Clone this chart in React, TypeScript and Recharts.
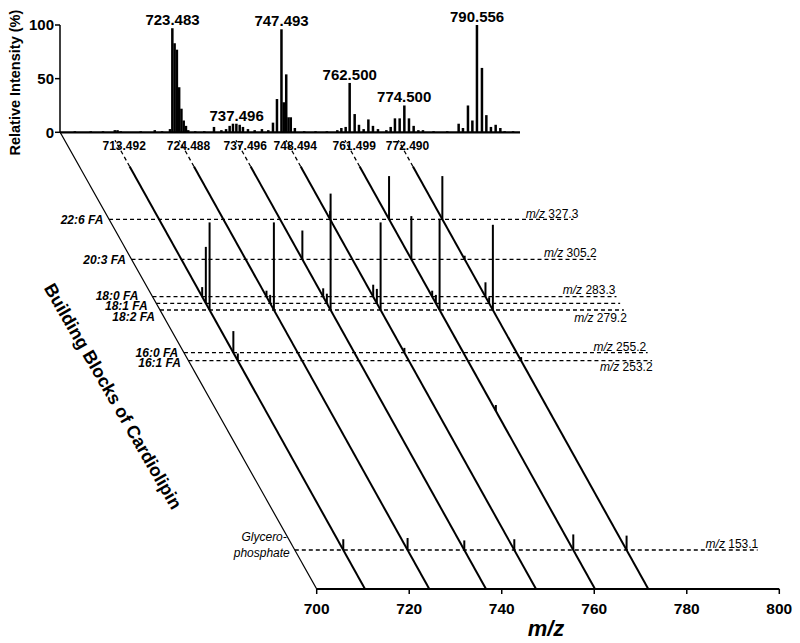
import React from 'react';
import { ComposedChart, Bar, Line, XAxis, YAxis, ReferenceLine, ReferenceDot } from 'recharts';

const FONT = '"Liberation Sans", Arial, Helvetica, sans-serif';
const INK = '#000';

// ---------------- Top panel: MS spectrum ----------------
const spectrumMz = [
  702.0, 705.5, 708.2, 710.8, 711.4, 712.1, 716.5, 719.6, 721.2, 722.95,
  723.47, 723.97, 724.47, 724.97, 725.47, 725.97, 726.47, 726.97, 728.5, 730.5,
  732.64, 734.27, 735.3, 736.09, 736.82, 737.57, 738.3, 739.02, 740.12, 741.6,
  743.2, 744.6, 745.63, 746.51, 747.5, 748.0, 748.55, 749.05, 749.55, 750.45,
  752.5, 755.0, 757.5, 759.8, 760.69, 761.64, 762.52, 763.62, 764.57, 765.6,
  766.64, 767.65, 768.75, 770.6, 771.55, 772.49, 773.53, 774.56, 775.58, 776.61,
  777.65, 778.66, 781.0, 784.0, 786.52, 787.47, 788.57, 789.54, 790.55, 791.65,
  792.62, 793.63, 794.67, 795.7, 796.65, 798.5,
];
const spectrumIntensity = [
  1, 1, 1, 2, 2, 1, 1, 2, 1, 3,
  97, 83, 77, 42, 22, 11, 6, 2, 1, 1,
  5, 2, 3, 6, 8, 8, 7, 5, 3, 2,
  3, 2, 9, 31, 96, 28, 54, 14, 14, 4,
  1, 1, 1, 2, 4, 5, 46, 17, 7, 3,
  12, 6, 3, 2, 5, 13, 13, 25, 13, 6,
  2, 2, 1, 1, 8, 4, 25, 11, 100, 60,
  16, 5, 7, 4, 1, 1,
];
const spectrumTicks = [0, 50, 100];
const peakLabelText = ['723.483', '737.496', '747.493', '762.500', '774.500', '790.556'];
const peakLabelMz = [723.483, 737.6, 747.493, 762.5, 774.5, 790.556];
const peakLabelIntensity = [97, 8, 96, 46, 25, 100];

// ---------------- Bottom panel: building blocks ----------------
const msAxisTicks = [700, 720, 740, 760, 780, 800];
const precursorLabel = ['713.492', '724.488', '737.496', '748.494', '761.499', '772.490'];
const precursorBaseMz = [710.44, 724.34, 736.6, 747.41, 760.16, 771.68];
const fragmentName = ['22:6 FA', '20:3 FA', '18:0 FA', '18:1 FA', '18:2 FA', '16:0 FA', '16:1 FA', 'Glycerophosphate'];
const fragmentMzLabel = ['327.3', '305.2', '283.3', '', '279.2', '255.2', '253.2', '153.1'];
const fragmentDepth = [80.9, 72.14, 63.96, 62.52, 61.05, 51.71, 49.96, 8.53];
const minorFragmentDepth = 38.95;
// rows: precursor; cols: 22:6, 20:3, 18:0, 18:1, 18:2, 16:0, 16:1, glycerophosphate, minor
const stickIntensity = [
  [0, 0, 8, 47, 73, 18, 6, 9, 0],
  [0, 0, 5, 7, 73, 0, 0, 10, 0],
  [0, 24, 7, 8, 97, 0, 0, 8, 0],
  [7, 0, 10, 12, 73, 4, 0, 9, 0],
  [36, 36, 5, 7, 76, 0, 0, 13, 5],
  [36, 3, 12, 5, 71, 0, 3, 12, 0],
];

// geometry / style constants (not data)
const SHEAR = 0.5503; // m/z shift per depth unit for the precursor lines
const FRAME_SHEAR = 0.5549;
const STICK_SCALE = 0.2626;
const LINE_TOP = 92.45;
const CONNECTOR_TOP = 98.2;
const PRECURSOR_LABEL_DEPTH = 96.94;
const BAR_PX = 2.5;

const leftLabelLayout = [
  { gap: 5.7, dy: 0.7 },
  { gap: 5.5, dy: 0 },
  { gap: 14.2, dy: -0.7 },
  { gap: 8.5, dy: 2.7 },
  { gap: 5, dy: 6.7 },
  { gap: 5.7, dy: -0.4 },
  { gap: 7.5, dy: 1.6 },
  { gap: 6.8, dy: 0 },
];
const rightLabelLayout: ({ dx: number; dy: number } | null)[] = [
  { dx: 5, dy: -6 },
  { dx: 1, dy: -6.6 },
  { dx: -1, dy: -7.4 },
  null,
  { dx: 3, dy: 7.3 },
  { dx: -1.5, dy: -6 },
  { dx: 0.5, dy: 6 },
  { dx: 0.7, dy: -6.7 },
];

const at = (draw: (x: number, y: number) => React.ReactNode) => (props: any) => {
  const vb = props.viewBox || {};
  const x = (vb.x ?? 0) + (vb.width ?? 0) / 2;
  const y = (vb.y ?? 0) + (vb.height ?? 0) / 2;
  return <g>{draw(x, y)}</g>;
};

const spectrumData = spectrumMz.map((mz, i) => ({ mz, intensity: spectrumIntensity[i] }));

const StickShape = (p: any) => {
  if (!p || p.height == null || !(p.height > 0)) return null;
  const cx = p.x + (p.width || 0) / 2;
  return <rect x={cx - BAR_PX / 2} y={p.y} width={BAR_PX} height={p.height} fill={INK} />;
};

function TopSpectrum() {
  return (
    <ComposedChart width={800} height={170} data={spectrumData} margin={{ top: 25, right: 280, bottom: 37.7, left: 0 }}>
      <XAxis type="number" dataKey="mz" domain={[698.7, 800]} allowDataOverflow hide />
      <YAxis
        type="number"
        domain={[0, 100]}
        ticks={spectrumTicks}
        interval={0}
        width={60}
        tickSize={5}
        tickMargin={1}
        axisLine={{ stroke: INK, strokeWidth: 1.5 }}
        tickLine={{ stroke: INK, strokeWidth: 1.5 }}
        tick={{ fill: INK, fontSize: 15, fontWeight: 700, fontFamily: FONT }}
        label={(props: any) => {
          const vb = props.viewBox || {};
          const x = (vb.x ?? 0) + 15;
          const y = (vb.y ?? 0) + (vb.height ?? 0) / 2 + 4;
          return (
            <text
              x={x}
              y={y}
              transform={`rotate(-90, ${x}, ${y})`}
              textAnchor="middle"
              dy="0.36em"
              fontSize={14.5}
              fontWeight={700}
              fontFamily={FONT}
              fill={INK}
            >
              Relative Intensity (%)
            </text>
          );
        }}
      />
      <Bar dataKey="intensity" fill={INK} barSize={2} shape={StickShape} isAnimationActive={false} />
      <ReferenceLine y={0} stroke={INK} strokeWidth={2.2} ifOverflow="visible" />
      {peakLabelText.map((t, i) => (
        <ReferenceDot
          key={t}
          x={peakLabelMz[i]}
          y={peakLabelIntensity[i]}
          r={0}
          ifOverflow="visible"
          label={at((x, y) => (
            <text x={x} y={y - 3} textAnchor="middle" fontSize={15} fontWeight={700} fontFamily={FONT} fill={INK}>
              {t}
            </text>
          ))}
        />
      ))}
    </ComposedChart>
  );
}

function BottomPanel() {
  const sticks: { x: number; d: number; h: number; key: string }[] = [];
  stickIntensity.forEach((row, i) => {
    row.forEach((v, j) => {
      if (v > 0) {
        const d = j < fragmentDepth.length ? fragmentDepth[j] : minorFragmentDepth;
        sticks.push({ x: precursorBaseMz[i] - SHEAR * d, d, h: v * STICK_SCALE, key: `s${i}-${j}` });
      }
    });
  });

  return (
    <ComposedChart width={800} height={643} margin={{ top: 132, right: 20.7, bottom: 0, left: 39.14 }}>
      <XAxis
        type="number"
        dataKey="x"
        domain={[640, 800]}
        allowDataOverflow
        ticks={msAxisTicks}
        interval={0}
        axisLine={false}
        tickLine={{ stroke: INK, strokeWidth: 1.5 }}
        tickSize={5}
        tickMargin={9}
        height={54}
        tick={{ fill: INK, fontSize: 15.5, fontWeight: 700, fontFamily: FONT }}
      />
      <YAxis type="number" dataKey="y" domain={[0, 100]} allowDataOverflow hide />

      {/* frame (building-block axis) */}
      <Line
        data={[{ x: 700, y: 0 }, { x: 700 - FRAME_SHEAR * 100, y: 100 }]}
        dataKey="y"
        stroke={INK}
        strokeWidth={1.2}
        dot={false}
        isAnimationActive={false}
      />
      {/* m/z axis line */}
      <ReferenceLine segment={[{ x: 700, y: 0 }, { x: 800, y: 0 }]} stroke={INK} strokeWidth={2} ifOverflow="visible" />

      {/* fragment levels */}
      {fragmentDepth.map((d, j) => (
        <ReferenceLine
          key={`lvl${j}`}
          segment={[{ x: 700 - FRAME_SHEAR * d, y: d }, { x: 800 - SHEAR * d, y: d }]}
          stroke={INK}
          strokeWidth={1.3}
          strokeDasharray="4 3"
          ifOverflow="visible"
        />
      ))}

      {/* precursor lines */}
      {precursorBaseMz.map((m, i) => (
        <Line
          key={`pl${i}`}
          data={[{ x: m, y: 0 }, { x: m - SHEAR * LINE_TOP, y: LINE_TOP }]}
          dataKey="y"
          stroke={INK}
          strokeWidth={2}
          dot={false}
          isAnimationActive={false}
        />
      ))}
      {precursorBaseMz.map((m, i) => (
        <ReferenceLine
          key={`pc${i}`}
          segment={[{ x: m - SHEAR * LINE_TOP, y: LINE_TOP }, { x: m - SHEAR * CONNECTOR_TOP, y: CONNECTOR_TOP }]}
          stroke={INK}
          strokeWidth={1.3}
          strokeDasharray="4 3"
          ifOverflow="visible"
        />
      ))}

      {/* fragment sticks */}
      {sticks.map((s) => (
        <ReferenceLine
          key={s.key}
          segment={[{ x: s.x, y: s.d }, { x: s.x, y: s.d + s.h }]}
          stroke={INK}
          strokeWidth={2}
          ifOverflow="visible"
        />
      ))}

      {/* precursor labels */}
      {precursorLabel.map((t, i) => (
        <ReferenceDot
          key={`plab${i}`}
          x={precursorBaseMz[i] - SHEAR * PRECURSOR_LABEL_DEPTH}
          y={PRECURSOR_LABEL_DEPTH}
          r={0}
          ifOverflow="visible"
          label={at((x, y) => (
            <text x={x + 6} y={y} dy="0.36em" textAnchor="middle" fontSize={12} fontWeight={700} fontFamily={FONT} fill={INK}>
              {t}
            </text>
          ))}
        />
      ))}

      {/* left labels */}
      {fragmentName.map((name, j) => (
        <ReferenceDot
          key={`ll${j}`}
          x={700 - FRAME_SHEAR * fragmentDepth[j]}
          y={fragmentDepth[j]}
          r={0}
          ifOverflow="visible"
          label={at((x, y) =>
            j === 7 ? (
              <g>
                <text x={x - 8} y={y - 13} dy="0.36em" textAnchor="end" fontSize={12} fontStyle="italic" fontFamily={FONT} fill={INK}>
                  Glycero-
                </text>
                <text x={x - 5} y={y + 3} dy="0.36em" textAnchor="end" fontSize={12} fontStyle="italic" fontFamily={FONT} fill={INK}>
                  phosphate
                </text>
              </g>
            ) : (
              <text
                x={x - leftLabelLayout[j].gap}
                y={y + leftLabelLayout[j].dy}
                dy="0.36em"
                textAnchor="end"
                fontSize={12}
                fontWeight={700}
                fontStyle="italic"
                fontFamily={FONT}
                fill={INK}
              >
                {name}
              </text>
            )
          )}
        />
      ))}

      {/* right m/z labels */}
      {fragmentMzLabel.map((lab, j) =>
        lab && rightLabelLayout[j] ? (
          <ReferenceDot
            key={`rl${j}`}
            x={800 - SHEAR * fragmentDepth[j]}
            y={fragmentDepth[j]}
            r={0}
            ifOverflow="visible"
            label={at((x, y) => (
              <text
                x={x + (rightLabelLayout[j] as any).dx}
                y={y + (rightLabelLayout[j] as any).dy}
                dy="0.36em"
                textAnchor="end"
                fontSize={12}
                fontFamily={FONT}
                fill={INK}
              >
                <tspan fontStyle="italic">m/z</tspan>
                {` ${lab}`}
              </text>
            ))}
          />
        ) : null
      )}

      {/* rotated axis title for building blocks */}
      <ReferenceDot
        x={700 - FRAME_SHEAR * 42.2}
        y={42.2}
        r={0}
        ifOverflow="visible"
        label={at((x, y) => {
          const cx = x - 95;
          return (
            <text
              x={cx}
              y={y}
              dy="0.36em"
              transform={`rotate(60, ${cx}, ${y})`}
              textAnchor="middle"
              fontSize={18}
              fontWeight={700}
              fontFamily={FONT}
              fill={INK}
            >
              Building Blocks of Cardiolipin
            </text>
          );
        })}
      />

      {/* m/z axis title */}
      <ReferenceDot
        x={750}
        y={0}
        r={0}
        ifOverflow="visible"
        label={at((x, y) => (
          <text x={x - 2} y={y + 39} dy="0.36em" textAnchor="middle" fontSize={22} fontWeight={700} fontStyle="italic" fontFamily={FONT} fill={INK}>
            m/z
          </text>
        ))}
      />
    </ComposedChart>
  );
}

export default function App() {
  return (
    <div style={{ position: 'absolute', left: 0, top: 0, width: 800, height: 643, background: '#fff', fontFamily: FONT }}>
      <div style={{ position: 'absolute', left: 0, top: 0 }}>
        <BottomPanel />
      </div>
      <div style={{ position: 'absolute', left: 0, top: 0 }}>
        <TopSpectrum />
      </div>
    </div>
  );
}
